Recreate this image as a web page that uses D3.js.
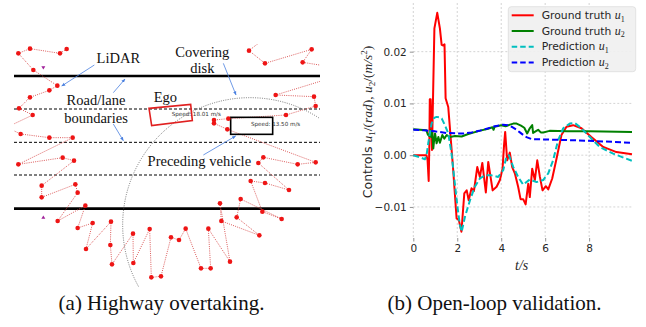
<!DOCTYPE html>
<html><head><meta charset="utf-8">
<script src="https://cdn.jsdelivr.net/npm/d3@7"></script>
<style>body{margin:0;background:#fff} svg{display:block}</style>
</head><body><svg id="c" width="646" height="327"></svg>
<script>
// ---------- Right panel data: controls over time ----------
const xTicks = [0, 2, 4, 6, 8];
const yTicks = [-0.01, 0.00, 0.01, 0.02];
const yTickLabels = ["\u22120.01", "0.00", "0.01", "0.02"];
const seriesNames = ["Ground truth", "Ground truth", "Prediction", "Prediction"];
const seriesSubs = ["1", "2", "1", "2"];

const gtU1 = [[0,0],[0.6,0],[0.65,-0.001],[0.7,-0.005],[0.73,0.002],[0.75,0.0108],[0.79,0.0108],[0.85,0.001],[0.96,0.0245],[1.09,0.0275],[1.21,0.0245],[1.29,0.0213],[1.36,0.0212],[1.42,0.0214],[1.47,0.011],[1.59,0.0093],[1.8,-0.002],[1.97,-0.0122],[2.07,-0.0125],[2.19,-0.0148],[2.32,-0.0074],[2.43,-0.0068],[2.52,-0.0087],[2.65,-0.0064],[2.76,-0.0069],[2.91,-0.0023],[3.03,-0.0042],[3.14,-0.0015],[3.3,-0.0072],[3.41,-0.0013],[3.61,-0.0068],[3.79,-0.0061],[3.94,-0.0048],[4.06,-0.0026],[4.13,0.002],[4.18,0.0045],[4.27,-0.001],[4.39,0.0005],[4.5,-0.0023],[4.62,-0.0035],[4.77,-0.0061],[4.88,-0.0085],[5.0,-0.0085],[5.11,-0.0095],[5.23,-0.0055],[5.3,-0.0081],[5.41,-0.0026],[5.53,-0.0048],[5.64,-0.001],[5.76,-0.0042],[5.88,-0.0068],[6.03,-0.006],[6.14,-0.0066],[6.32,-0.0045],[6.52,-0.0006],[6.74,0.0039],[6.97,0.0055],[7.27,0.0058],[7.65,0.0052],[8.1,0.0035],[8.64,0.0016],[9.24,0.0006],[9.95,0.0002]];
const gtU2 = [[0,0.005],[0.6,0.0048],[0.66,0.004],[0.73,0.0037],[0.78,0.0048],[0.82,0.0035],[0.86,0.0045],[0.91,0.0013],[0.95,0.003],[0.99,0.0042],[1.06,0.0023],[1.14,0.0035],[1.21,0.0024],[1.32,0.0039],[1.41,0.0032],[1.52,0.0039],[1.67,0.0035],[1.9,0.0037],[2.2,0.0036],[2.5,0.0041],[3.0,0.0047],[3.4,0.0051],[3.6,0.0054],[3.65,0.0049],[3.7,0.0055],[4.0,0.0058],[4.2,0.0056],[4.4,0.0059],[4.55,0.0061],[4.7,0.0061],[4.9,0.0057],[5.05,0.0053],[5.18,0.0042],[5.3,0.0052],[5.41,0.0058],[5.45,0.0043],[5.6,0.0047],[5.68,0.0049],[5.8,0.0044],[5.91,0.0044],[6.2,0.0047],[7.0,0.0046],[8.0,0.0046],[9.95,0.0045]];
const predU1 = [[0,0],[0.3,-0.0004],[0.53,-0.0008],[0.62,0.0005],[0.68,0.0023],[0.83,0.0061],[0.95,0.0072],[1.06,0.0074],[1.2,0.0073],[1.29,0.0071],[1.44,0.0058],[1.59,0.0042],[1.74,0.0003],[1.89,-0.0055],[2.01,-0.01],[2.12,-0.0135],[2.2,-0.0148],[2.35,-0.0119],[2.58,-0.0087],[2.8,-0.0061],[3.03,-0.0045],[3.26,-0.0039],[3.56,-0.0039],[3.86,-0.0042],[4.09,-0.0029],[4.24,-0.0003],[4.35,0.0],[4.55,-0.0023],[4.77,-0.0042],[5.0,-0.0057],[5.3,-0.0047],[5.61,-0.0052],[5.91,-0.0048],[6.14,-0.0035],[6.36,-0.001],[6.59,0.0029],[6.82,0.0052],[7.12,0.0061],[7.35,0.0062],[7.65,0.0052],[8.03,0.0035],[8.48,0.0016],[9.09,0.0003],[9.95,-0.0011]];
const predU2 = [[0,0.0049],[0.5,0.0048],[1.0,0.0046],[1.5,0.0043],[2.0,0.0042],[2.3,0.0042],[2.65,0.0044],[3.0,0.0047],[3.26,0.005],[3.71,0.0056],[4.09,0.0059],[4.3,0.0058],[4.47,0.0055],[4.7,0.0049],[4.85,0.0044],[5.0,0.0039],[5.15,0.0035],[5.38,0.0031],[6.36,0.003],[7.88,0.0028],[9.95,0.0024]];

// ---------- Left panel data: scene (image units) ----------
const roadLinesY = [228, 327, 427, 525, 626];
const roadLineKinds = ["solid", "dashed", "dashed", "dashed", "solid"];
// LiDAR ray endpoints, in scan order (each array is one connected chain)
const lidarChains = [
  [[200,147],[180,160],[90,146],[55,160],[100,210],[172,257],[148,271],[90,292],[57,325],[98,345],[20,382],[62,402],[148,413],[218,413],[55,493],[188,473],[222,482],[125,557],[125,592],[226,553],[233,578],[173,663],[256,617],[233,684],[278,669],[258,747],[333,665],[331,735],[336,793],[399,701],[400,789],[449,687],[454,832],[483,829],[513,712],[537,720],[557,686],[603,805],[632,805],[625,686],[690,785],[660,610],[664,663],[778,706],[710,652],[722,597],[845,657],[787,635],[752,543],[795,549],[867,570],[775,489],[790,472],[893,493],[947,487],[682,388],[642,370],[642,360],[685,356],[858,345],[947,318],[942,290],[827,285],[990,235]],
  [[990,200],[908,187],[935,148],[795,190],[747,152],[800,110]]
];
const lidarPoints = [[200,147],[180,160],[90,146],[55,160],[100,210],[172,257],[148,271],[90,292],[57,325],[98,345],[62,402],[148,413],[218,413],[55,493],[188,473],[222,482],[125,557],[125,592],[226,553],[233,578],[173,663],[256,617],[233,684],[278,669],[258,747],[333,665],[331,735],[336,793],[399,701],[400,789],[449,687],[454,832],[483,829],[513,712],[537,720],[557,686],[603,805],[632,805],[625,686],[690,785],[660,610],[664,663],[778,706],[710,652],[722,597],[845,657],[787,635],[752,543],[795,549],[867,570],[775,489],[790,472],[893,493],[947,487],[682,388],[642,370],[642,360],[685,356],[858,345],[947,318],[942,290],[827,285],[908,187],[935,148],[795,190],[747,152]];
const egoBox = [[447,325],[572,313],[577,362],[455,377]];
const leadBox = [[692,352],[818,403]];
const speedLabels = [["Speed: 18.01 m/s", 515, 347], ["Speed: 13.50 m/s", 753, 379]];
const sensorMarks = [[130,203,"down"],[130,652,"up"]];
const coverDisk = {cx: 750, cy: 675, r: 382};
const annotations = [["LiDAR",355,175],["Covering",607,155],["disk",607,205],["Road/lane",288,300],["boundaries",288,354],["Ego",496,292],["Preceding vehicle",598,482]];
const arrows = [[[283,195],[185,258]],[[340,278],[375,237]],[[340,372],[370,422]],[[670,190],[708,285]],[[610,465],[707,408]]];
const captions = ["(a) Highway overtaking.", "(b) Open-loop validation."];

const svg = d3.select("#c");
svg.append("rect").attr("width",646).attr("height",327).attr("fill","#fff");

const defs = svg.append("defs");
defs.append("clipPath").attr("id","sceneClip").append("rect")
  .attr("x",14).attr("y",44).attr("width",306).attr("height",243);
defs.append("marker").attr("id","ah").attr("viewBox","0 0 10 10").attr("refX",9).attr("refY",5)
  .attr("markerWidth",5).attr("markerHeight",5).attr("orient","auto")
  .append("path").attr("d","M0,1 L10,5 L0,9 z").attr("fill","#4a80e0");

// ---------- Left panel ----------
const sx = d3.scaleLinear().domain([0,990]).range([0,330]);
const sy = d3.scaleLinear().domain([0,870]).range([0,290]);
const scene = svg.append("g").attr("clip-path","url(#sceneClip)");

scene.selectAll("line.road").data(roadLinesY).join("line")
  .attr("x1",sx(42)).attr("x2",sx(960)).attr("y1",d=>sy(d)).attr("y2",d=>sy(d))
  .attr("stroke","#000")
  .attr("stroke-width",(d,i)=>roadLineKinds[i]==="solid"?2.6:1)
  .attr("stroke-dasharray",(d,i)=>roadLineKinds[i]==="solid"?null:"3,2");

const lineGen = d3.line().x(d=>sx(d[0])).y(d=>sy(d[1]));
scene.selectAll("path.chain").data(lidarChains).join("path")
  .attr("d",lineGen).attr("fill","none").attr("stroke","#d84a4a")
  .attr("stroke-width",0.9).attr("stroke-dasharray","1,1.2");

scene.append("circle").attr("cx",sx(coverDisk.cx)).attr("cy",sy(coverDisk.cy)).attr("r",sx(coverDisk.r))
  .attr("fill","none").attr("stroke","#555").attr("stroke-width",0.8).attr("stroke-dasharray","1,1.3");

scene.append("polygon").attr("points",egoBox.map(p=>sx(p[0])+","+sy(p[1])).join(" "))
  .attr("fill","none").attr("stroke","#e02020").attr("stroke-width",1.6);
scene.append("rect").attr("x",sx(leadBox[0][0])).attr("y",sy(leadBox[0][1]))
  .attr("width",sx(leadBox[1][0])-sx(leadBox[0][0])).attr("height",sy(leadBox[1][1])-sy(leadBox[0][1]))
  .attr("fill","none").attr("stroke","#000").attr("stroke-width",1.6);

scene.selectAll("text.spd").data(speedLabels).join("text")
  .attr("x",d=>sx(d[1])).attr("y",d=>sy(d[2])).text(d=>d[0])
  .attr("font-family","DejaVu Sans").attr("font-size",5.6).attr("fill","#333");

scene.selectAll("circle.pt").data(lidarPoints).join("circle")
  .attr("cx",d=>sx(d[0])).attr("cy",d=>sy(d[1])).attr("r",2.3).attr("fill","#ee1515");

scene.selectAll("path.tri").data(sensorMarks).join("path")
  .attr("transform",d=>`translate(${sx(d[0])},${sy(d[1])})`)
  .attr("d",d=>d[2]==="down"?"M-2,-1.5 L2,-1.5 L0,1.8 z":"M-2,1.5 L2,1.5 L0,-1.8 z")
  .attr("fill","#a0209a");

scene.selectAll("line.arr").data(arrows).join("line")
  .attr("x1",d=>sx(d[0][0])).attr("y1",d=>sy(d[0][1])).attr("x2",d=>sx(d[1][0])).attr("y2",d=>sy(d[1][1]))
  .attr("stroke","#4a80e0").attr("stroke-width",0.8).attr("marker-end","url(#ah)");

scene.selectAll("text.ann").data(annotations).join("text")
  .attr("x",d=>sx(d[1])).attr("y",d=>sy(d[2])).attr("dy","0.35em").attr("text-anchor","middle")
  .attr("font-family","Liberation Serif").attr("font-size",14.5).attr("fill","#111").text(d=>d[0]);

// ---------- Right panel ----------
const x = d3.scaleLinear().domain([0,9.95]).range([413.3,632]);
const y = d3.scaleLinear().domain([-0.016,0.0294]).range([238,3]);
const plot = svg.append("g");

plot.selectAll("line.vg").data(xTicks).join("line")
  .attr("x1",d=>x(d)).attr("x2",d=>x(d)).attr("y1",y.range()[1]).attr("y2",y.range()[0])
  .attr("stroke","#cfcfcf").attr("stroke-width",0.9).attr("stroke-dasharray","2,2");
plot.selectAll("line.hg").data(yTicks).join("line")
  .attr("x1",x.range()[0]).attr("x2",x.range()[1]).attr("y1",d=>y(d)).attr("y2",d=>y(d))
  .attr("stroke","#cfcfcf").attr("stroke-width",0.9).attr("stroke-dasharray","2,2");

const xAxis = d3.axisBottom(x).tickValues(xTicks).tickFormat(d3.format("d")).tickSize(3.5).tickPadding(3);
const gx = plot.append("g").attr("transform",`translate(0,${y.range()[0]})`).call(xAxis);
const yAxis = d3.axisLeft(y).tickValues(yTicks).tickFormat((d,i)=>yTickLabels[i]).tickSize(3.5).tickPadding(3);
const gy = plot.append("g").attr("transform",`translate(${x.range()[0]},0)`).call(yAxis);
[gx,gy].forEach(g=>{
  g.select(".domain").remove();
  g.selectAll(".tick line").attr("stroke","#777").attr("stroke-width",0.8);
  g.selectAll(".tick text").attr("font-family","DejaVu Sans").attr("font-size",10.5).attr("fill","#262626");
});

const l = d3.line().x(d=>x(d[0])).y(d=>y(d[1]));
const series = [
  {data: gtU1, color:"#ff0000", dash:null},
  {data: gtU2, color:"#008000", dash:null},
  {data: predU1, color:"#00bfbf", dash:"6,3"},
  {data: predU2, color:"#0000ff", dash:"6,3"}
];
plot.selectAll("path.s").data(series).join("path")
  .attr("d",d=>l(d.data)).attr("fill","none").attr("stroke",d=>d.color)
  .attr("stroke-width",2).attr("stroke-dasharray",d=>d.dash).attr("stroke-linejoin","round");

// legend
const lg = plot.append("g");
lg.append("rect").attr("x",508.3).attr("y",6.7).attr("width",127.4).attr("height",65).attr("rx",3)
  .attr("fill","#f0f0f0").attr("fill-opacity",0.9).attr("stroke","#dcdcdc").attr("stroke-width",0.8);
const items = lg.selectAll("g.item").data(series).join("g")
  .attr("transform",(d,i)=>`translate(511.7,${15.3+i*15.7})`);
items.append("line").attr("x1",0).attr("x2",22).attr("stroke",d=>d.color).attr("stroke-width",2)
  .attr("stroke-dasharray",d=>d.dash?"5.5,3":null);
const it = items.append("text").attr("x",30).attr("dy","0.35em")
  .attr("font-family","DejaVu Sans").attr("font-size",10.8).attr("fill","#262626");
it.append("tspan").text((d,i)=>seriesNames[i]+" ");
it.append("tspan").text("u").attr("font-family","Liberation Serif").attr("font-style","italic").attr("font-size",12);
it.append("tspan").text((d,i)=>seriesSubs[i]).attr("font-family","Liberation Serif").attr("font-size",8).attr("dy",2.5);

// axis labels
plot.append("text").attr("x",521.7).attr("y",270).attr("text-anchor","middle")
  .attr("font-family","Liberation Serif").attr("font-style","italic").attr("font-size",14).attr("fill","#262626").text("t/s");

const yl = plot.append("text").attr("transform","translate(372,122) rotate(-90)").attr("text-anchor","middle")
  .attr("font-family","DejaVu Sans").attr("font-size",12.5).attr("fill","#262626");
const mi = (t)=>yl.append("tspan").text(t).attr("font-family","Liberation Serif").attr("font-style","italic").attr("font-size",13.5);
const mr = (t)=>yl.append("tspan").text(t).attr("font-family","Liberation Serif").attr("font-size",13.5);
yl.append("tspan").text("Controls ");
mi("u"); yl.append("tspan").text("1").attr("font-family","Liberation Serif").attr("font-size",9).attr("dy",3);
mr("/(").attr("dy",-3); mi("rad"); mr("), ");
mi("u"); yl.append("tspan").text("2").attr("font-family","Liberation Serif").attr("font-size",9).attr("dy",3);
mr("/(").attr("dy",-3); mi("m/s"); yl.append("tspan").text("2").attr("font-family","Liberation Serif").attr("font-size",9).attr("dy",-5);
mr(")").attr("dy",5);

// captions
svg.selectAll("text.cap").data(captions).join("text")
  .attr("x",(d,i)=>i===0?161.5:494.5).attr("y",310).attr("text-anchor","middle")
  .attr("font-family","Liberation Serif").attr("font-size",21).attr("fill","#111").text(d=>d);
</script></body></html>
